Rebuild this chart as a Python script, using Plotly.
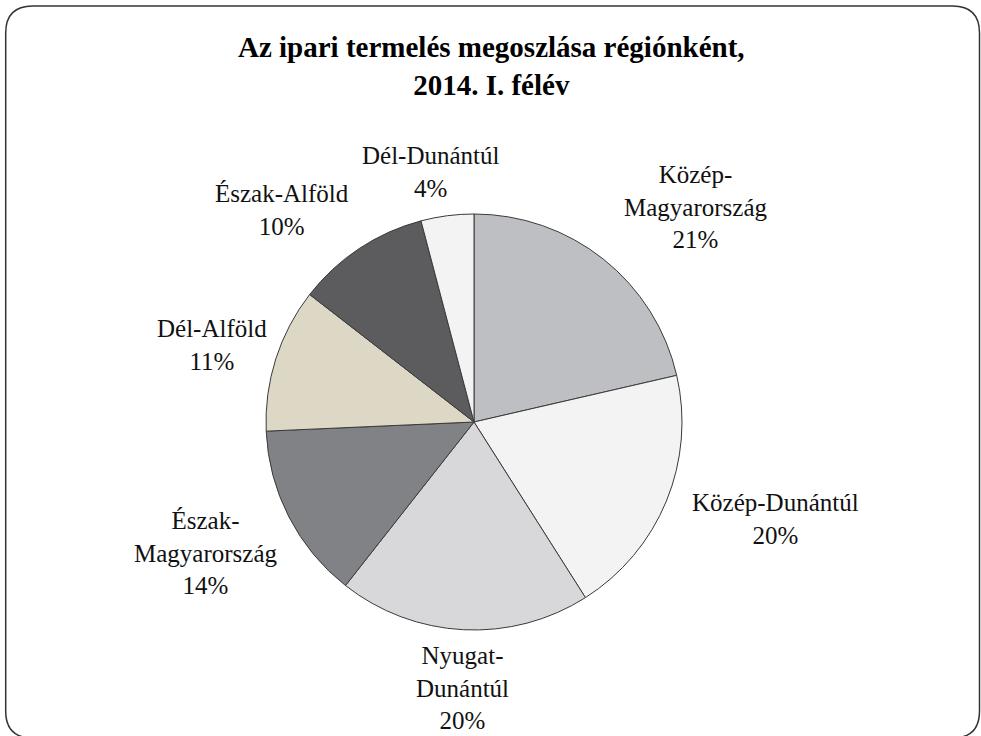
import plotly.graph_objects as go

W, H = 981, 736

regions = ["Közép-Magyarország", "Közép-Dunántúl", "Nyugat-Dunántúl",
           "Észak-Magyarország", "Dél-Alföld", "Észak-Alföld", "Dél-Dunántúl"]
display_labels = ["Közép-<br>Magyarország", "Közép-Dunántúl", "Nyugat-<br>Dunántúl",
                  "Észak-<br>Magyarország", "Dél-Alföld", "Észak-Alföld", "Dél-Dunántúl"]
shares = [21.4, 19.6, 19.6, 13.7, 11.2, 10.4, 4.1]
colors = ["#BEBFC3", "#F2F3F2", "#D8D8DA", "#818286", "#DDD8C5", "#5C5C5F", "#F2F3F2"]

# label anchor positions (pixels: x, y-center)
label_pos = [(695, 207), (775, 519), (462, 688), (205, 553), (212, 345), (282, 210), (431, 172)]

FONT = "Liberation Serif"

fig = go.Figure()
fig.add_trace(go.Pie(
    labels=regions, values=shares, sort=False, direction="clockwise", rotation=0,
    marker=dict(colors=colors, line=dict(color="#3a3a3a", width=1)),
    textinfo="none", hoverinfo="label+percent", showlegend=False,
    domain=dict(x=[266 / W, 682 / W], y=[(H - 630) / H, (H - 214) / H]),
))

total = sum(shares)
annotations = []
for lab, v, (px, py) in zip(display_labels, shares, label_pos):
    pct = int(v / total * 100 + 0.5)
    annotations.append(dict(
        x=px / W, y=1 - py / H, xref="paper", yref="paper",
        text=f"{lab}<br>{pct}%", showarrow=False, align="center",
        xanchor="center", yanchor="middle",
        font=dict(family=FONT, size=25, color="#111111"),
    ))

annotations.append(dict(
    x=491 / W, y=1 - 66 / H, xref="paper", yref="paper",
    text="<b>Az ipari termelés megoszlása régiónként,<br>2014. I. félév</b>",
    showarrow=False, align="center", xanchor="center", yanchor="middle",
    font=dict(family=FONT, size=29, color="#000000"),
))

# rounded border
def px2(x, y):
    return f"{x / W:.5f},{1 - y / H:.5f}"

L, R, T, B, r = 5.7, 979.5, 6.0, 738.0, 27
path = (f"M {px2(L + r, T)} L {px2(R - r, T)} Q {px2(R, T)} {px2(R, T + r)} "
        f"L {px2(R, B - r)} Q {px2(R, B)} {px2(R - r, B)} "
        f"L {px2(L + r, B)} Q {px2(L, B)} {px2(L, B - r)} "
        f"L {px2(L, T + r)} Q {px2(L, T)} {px2(L + r, T)} Z")

fig.update_layout(
    width=W, height=H, autosize=False,
    margin=dict(l=0, r=0, t=0, b=0),
    paper_bgcolor="white", plot_bgcolor="white",
    annotations=annotations,
    shapes=[dict(type="path", path=path, xref="paper", yref="paper",
                 line=dict(color="#333333", width=1.5))],
)

fig.write_html("out.html", config={"displayModeBar": False},
               post_script="document.body.style.margin='0';document.body.style.overflow='hidden';")
